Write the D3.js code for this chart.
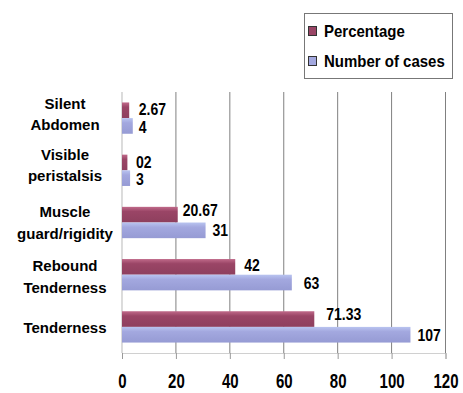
<!DOCTYPE html>
<html><head><meta charset="utf-8">
<script src="https://cdn.jsdelivr.net/npm/d3@7"></script>
<style>
html,body{margin:0;padding:0;background:#fff;}
svg{display:block;font-family:"Liberation Sans",Arial,sans-serif;font-weight:bold;}
</style></head>
<body><svg id="c" width="463" height="393"></svg>
<script>
const categories = ["Silent Abdomen","Visible peristalsis","Muscle guard/rigidity","Rebound Tenderness","Tenderness"];
const categoryLines = [["Silent","Abdomen"],["Visible","peristalsis"],["Muscle","guard/rigidity"],["Rebound","Tenderness"],["Tenderness"]];
const percentage = [2.67, 2, 20.67, 42, 71.33];
const percentageLabels = ["2.67","02","20.67","42","71.33"];
const cases = [4, 3, 31, 63, 107];
const casesLabels = ["4","3","31","63","107"];
const seriesNames = ["Percentage","Number of cases"];
const xTicks = [0,20,40,60,80,100,120];

const svg = d3.select("#c");
const x = d3.scaleLinear().domain([0,120]).range([122,445.5]);
const y = d3.scaleBand().domain(categories).range([92,353]).paddingInner(0.4).paddingOuter(0.2);
const sub = d3.scaleBand().domain(seriesNames).range([0,y.bandwidth()]);
const colors = {"Percentage":"#9a4566","Number of cases":"#a3a8df"};

const defs = svg.append("defs");
function grad(id, top, mid, bot){
  const g = defs.append("linearGradient").attr("id",id).attr("x1",0).attr("y1",0).attr("x2",0).attr("y2",1);
  g.append("stop").attr("offset","0%").attr("stop-color",top);
  g.append("stop").attr("offset","30%").attr("stop-color",mid);
  g.append("stop").attr("offset","100%").attr("stop-color",bot);
}
grad("gP","#c06a8a","#9a4566","#8e3f5e");
grad("gN","#b9c4f0","#a3a8df","#969bd4");
const fills = {"Percentage":"url(#gP)","Number of cases":"url(#gN)"};

// gridlines
const [y0,y1] = y.range();
svg.append("g").selectAll("line").data(xTicks.slice(1)).join("line")
  .attr("x1",d=>x(d)).attr("x2",d=>x(d)).attr("y1",y0).attr("y2",y1)
  .attr("stroke","#808080").attr("stroke-width",1);
// left axis line
svg.append("line").attr("x1",x(0)).attr("x2",x(0)).attr("y1",y0).attr("y2",y1)
  .attr("stroke","#c4c4c4").attr("stroke-width",1.2);
// bottom axis
const xAxis = d3.axisBottom(x).tickValues(xTicks).tickSize(6).tickPadding(4).tickFormat(d3.format("d"));
const ax = svg.append("g").attr("transform",`translate(0,${y1})`).call(xAxis);
ax.select(".domain").attr("stroke","#d0d0d0");
ax.selectAll(".tick line").attr("stroke","#999");
ax.selectAll(".tick text").attr("font-size",15).attr("font-weight","bold").attr("fill","#000")
  .attr("y",0).attr("dy",0)
  .attr("transform","translate(0,35) scale(1,1.4)");

// bars
const rows = categories.map((c,i)=>({c,i}));
const g = svg.append("g");
rows.forEach(r=>{
  const vals = [
    {s:"Percentage",v:percentage[r.i]},
    {s:"Number of cases",v:cases[r.i]}
  ];
  vals.forEach(d=>{
    const by = y(r.c)+sub(d.s);
    g.append("rect").attr("x",x(0)).attr("y",by)
      .attr("width",x(d.v)-x(0)).attr("height",sub.bandwidth())
      .attr("fill",fills[d.s]);
  });
});
// value labels (layout nudges, not data)
const pctDx = [0,0,5,9,12], pctDy = [-1,-1,-5,-2,-5];
const numDx = [6,6,7,12,7], numDy = [1,1,0,0,0];
rows.forEach(r=>{
  const pe = x(percentage[r.i]), ce = x(cases[r.i]);
  const py = y(r.c)+sub("Percentage")+sub.bandwidth()/2;
  const cy = y(r.c)+sub("Number of cases")+sub.bandwidth()/2;
  const small = cases[r.i] < 10;
  const px = small ? ce + 6 : pe + pctDx[r.i];
  svg.append("text").attr("transform",`translate(${px},${py + pctDy[r.i]}) scale(1,1.2)`)
    .attr("dy","0.36em").attr("font-size",14).attr("fill","#000").text(percentageLabels[r.i]);
  svg.append("text").attr("transform",`translate(${ce+numDx[r.i]},${cy+numDy[r.i]}) scale(1,1.2)`)
    .attr("dy","0.36em").attr("font-size",14).attr("fill","#000").text(casesLabels[r.i]);
});
// category labels
const labNudge = [-4,-5,0,2,1];
rows.forEach(r=>{
  const lines = categoryLines[r.i];
  const cy = y(r.c)+y.bandwidth()/2 + labNudge[r.i];
  const lh = 21.5;
  const t = svg.append("text").attr("text-anchor","middle").attr("font-size",15).attr("fill","#000");
  lines.forEach((ln,k)=>{
    const ly = cy + (k-(lines.length-1)/2)*lh;
    t.append("tspan").attr("x",65).attr("y",ly).attr("dy","0.36em").text(ln);
  });
});
// legend
const lg = svg.append("g");
lg.append("rect").attr("x",304.5).attr("y",13.5).attr("width",148).attr("height",65)
  .attr("fill","#fff").attr("stroke","#777").attr("stroke-width",1);
seriesNames.forEach((s,k)=>{
  const ly = 31 + k*30;
  lg.append("rect").attr("x",308.5).attr("y",ly-4.5).attr("width",8).attr("height",9)
    .attr("fill",colors[s]).attr("stroke","#333").attr("stroke-width",1);
  lg.append("text").attr("transform",`translate(324,${ly}) scale(1,1.1)`).attr("dy","0.36em")
    .attr("font-size",15).attr("fill","#000").text(s);
});
</script></body></html>
